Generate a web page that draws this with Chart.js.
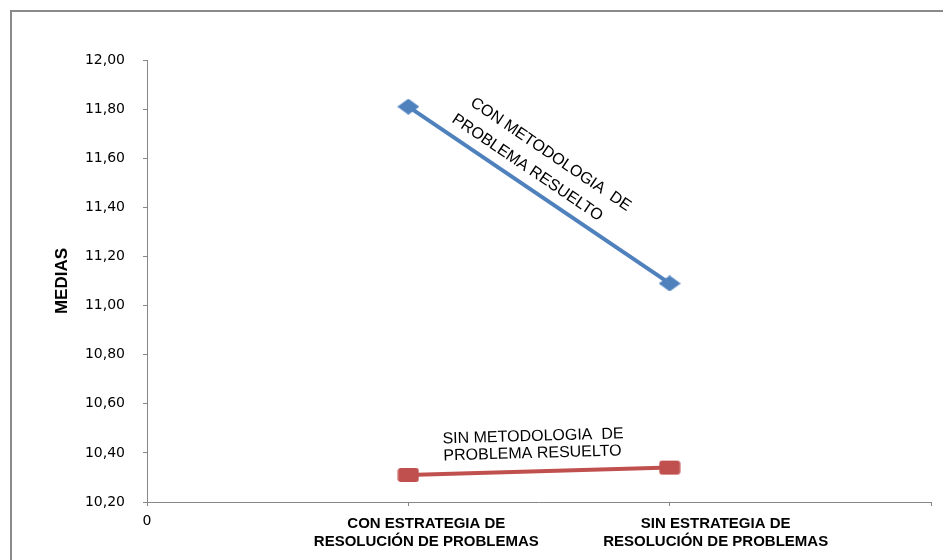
<!DOCTYPE html>
<html>
<head>
<meta charset="utf-8">
<script src="https://cdn.jsdelivr.net/npm/chart.js@4/dist/chart.umd.min.js"></script>
<style>
  html, body { margin: 0; padding: 0; background: #fff; overflow: hidden; }
  #frame { position: absolute; left: 10px; top: 10px; width: 1000px; height: 600px;
           border: 2px solid #8a8a8a; box-sizing: border-box; }
  #chart { position: absolute; left: 0; top: 0; }
</style>
</head>
<body>
<div id="frame"></div>
<canvas id="chart" width="943" height="560"></canvas>
<script>
// Datos
const xLabels = ['0', ['CON ESTRATEGIA DE', 'RESOLUCIÓN DE PROBLEMAS'], ['SIN ESTRATEGIA DE', 'RESOLUCIÓN DE PROBLEMAS'], ''];
const conMetodologia = [null, 11.81, 11.09, null];
const sinMetodologia = [null, 10.31, 10.34, null];
const conLabel = ['CON METODOLOGIA  DE', 'PROBLEMA RESUELTO'];
const sinLabel = ['SIN METODOLOGIA  DE', 'PROBLEMA RESUELTO'];
const yMin = 10.2, yMax = 12.0, yStep = 0.2;

const axisGray = '#868686';
const labelShift = [0, 18, 46, 0];   // desplazamiento horizontal de las etiquetas del eje x

// marcadores algo mas anchos que altos, como en el original
function makeMarker(kind, color) {
  const c = document.createElement('canvas');
  c.width = 22; c.height = 16;
  const g = c.getContext('2d');
  g.fillStyle = color;
  if (kind === 'diamond') {
    g.beginPath();
    g.moveTo(11, 0); g.lineTo(22, 8); g.lineTo(11, 16); g.lineTo(0, 8);
    g.closePath(); g.fill();
  } else {
    g.beginPath();
    g.roundRect(0.5, 1, 21, 14, 3);
    g.fill();
  }
  return c;
}

// Etiquetas de las series junto a cada linea y etiquetas del eje x
const lineLabels = {
  id: 'lineLabels',
  afterDatasetsDraw(chart) {
    const ctx = chart.ctx;
    const items = [
      { ds: 0, text: conLabel, pos: [[40, -13], [16, -25]] },
      { ds: 1, text: sinLabel, pos: [[35, -5], [18, -6]] }
    ];
    items.forEach(it => {
      const pts = chart.getDatasetMeta(it.ds).data;
      const a = pts[1], b = pts[2];
      const ang = Math.atan2(b.y - a.y, b.x - a.x);
      const mx = (a.x + b.x) / 2, my = (a.y + b.y) / 2;
      const dx = Math.cos(ang), dy = Math.sin(ang);
      const nx = dy, ny = -dx;
      it.text.forEach((t, i) => {
        const [n, al] = it.pos[i];
        ctx.save();
        ctx.translate(mx + nx * n + dx * al, my + ny * n + dy * al);
        ctx.rotate(ang);
        ctx.font = '16px "Liberation Sans", Arial, sans-serif';
        ctx.fillStyle = '#000';
        ctx.textAlign = 'center';
        ctx.textBaseline = 'middle';
        ctx.fillText(t, 0, 0);
        ctx.restore();
      });
    });

    // etiquetas de categorias
    const xs = chart.scales.x;
    xLabels.forEach((lab, i) => {
      const lines = Array.isArray(lab) ? lab : [lab];
      const x = xs.getPixelForValue(i) + labelShift[i];
      ctx.save();
      ctx.fillStyle = '#000';
      ctx.textAlign = 'center';
      ctx.textBaseline = 'middle';
      ctx.font = i === 0 ? '14px "DejaVu Sans", sans-serif' : 'bold 15px "Liberation Sans", Arial, sans-serif';
      lines.forEach((t, k) => ctx.fillText(t, x, xs.top + (i === 0 ? 19 : 22) + k * 18));
      ctx.restore();
    });
  }
};

new Chart(document.getElementById('chart'), {
  type: 'line',
  data: {
    labels: xLabels,
    datasets: [
      {
        label: 'CON METODOLOGIA DE PROBLEMA RESUELTO',
        data: conMetodologia,
        borderColor: '#4F81BD',
        backgroundColor: '#4F81BD',
        borderWidth: 4,
        pointStyle: makeMarker('diamond', '#4F81BD'),
        pointRadius: 8,
        tension: 0
      },
      {
        label: 'SIN METODOLOGIA DE PROBLEMA RESUELTO',
        data: sinMetodologia,
        borderColor: '#C0504D',
        backgroundColor: '#C0504D',
        borderWidth: 4,
        pointStyle: makeMarker('rect', '#C0504D'),
        pointRadius: 8,
        tension: 0
      }
    ]
  },
  options: {
    responsive: false,
    animation: false,
    layout: { padding: { left: 40, top: 60, right: 8, bottom: 0 } },
    plugins: {
      legend: { display: false },
      tooltip: { enabled: false }
    },
    scales: {
      x: {
        type: 'category',
        offset: false,
        grid: { drawOnChartArea: false, drawTicks: true, tickLength: 4, color: axisGray },
        border: { color: axisGray, width: 1 },
        ticks: { display: false, autoSkip: false },
        afterFit: (scale) => { scale.height = 58; }
      },
      y: {
        min: yMin,
        max: yMax,
        grid: { drawOnChartArea: false, drawTicks: true, tickLength: 4, color: axisGray },
        border: { color: axisGray, width: 1 },
        ticks: {
          stepSize: yStep,
          padding: 18,
          color: '#000',
          font: { family: '"DejaVu Sans", Verdana, sans-serif', size: 14 },
          callback: (v) => Number(v).toFixed(2).replace('.', ',')
        },
        title: {
          display: true,
          text: 'MEDIAS',
          color: '#000',
          padding: { top: 12, bottom: 0 },
          font: { family: '"Liberation Sans", Arial, sans-serif', size: 17, weight: 'bold' }
        },
        afterFit: (scale) => { scale.width = 107; }
      }
    }
  },
  plugins: [lineLabels]
});
</script>
</body>
</html>
